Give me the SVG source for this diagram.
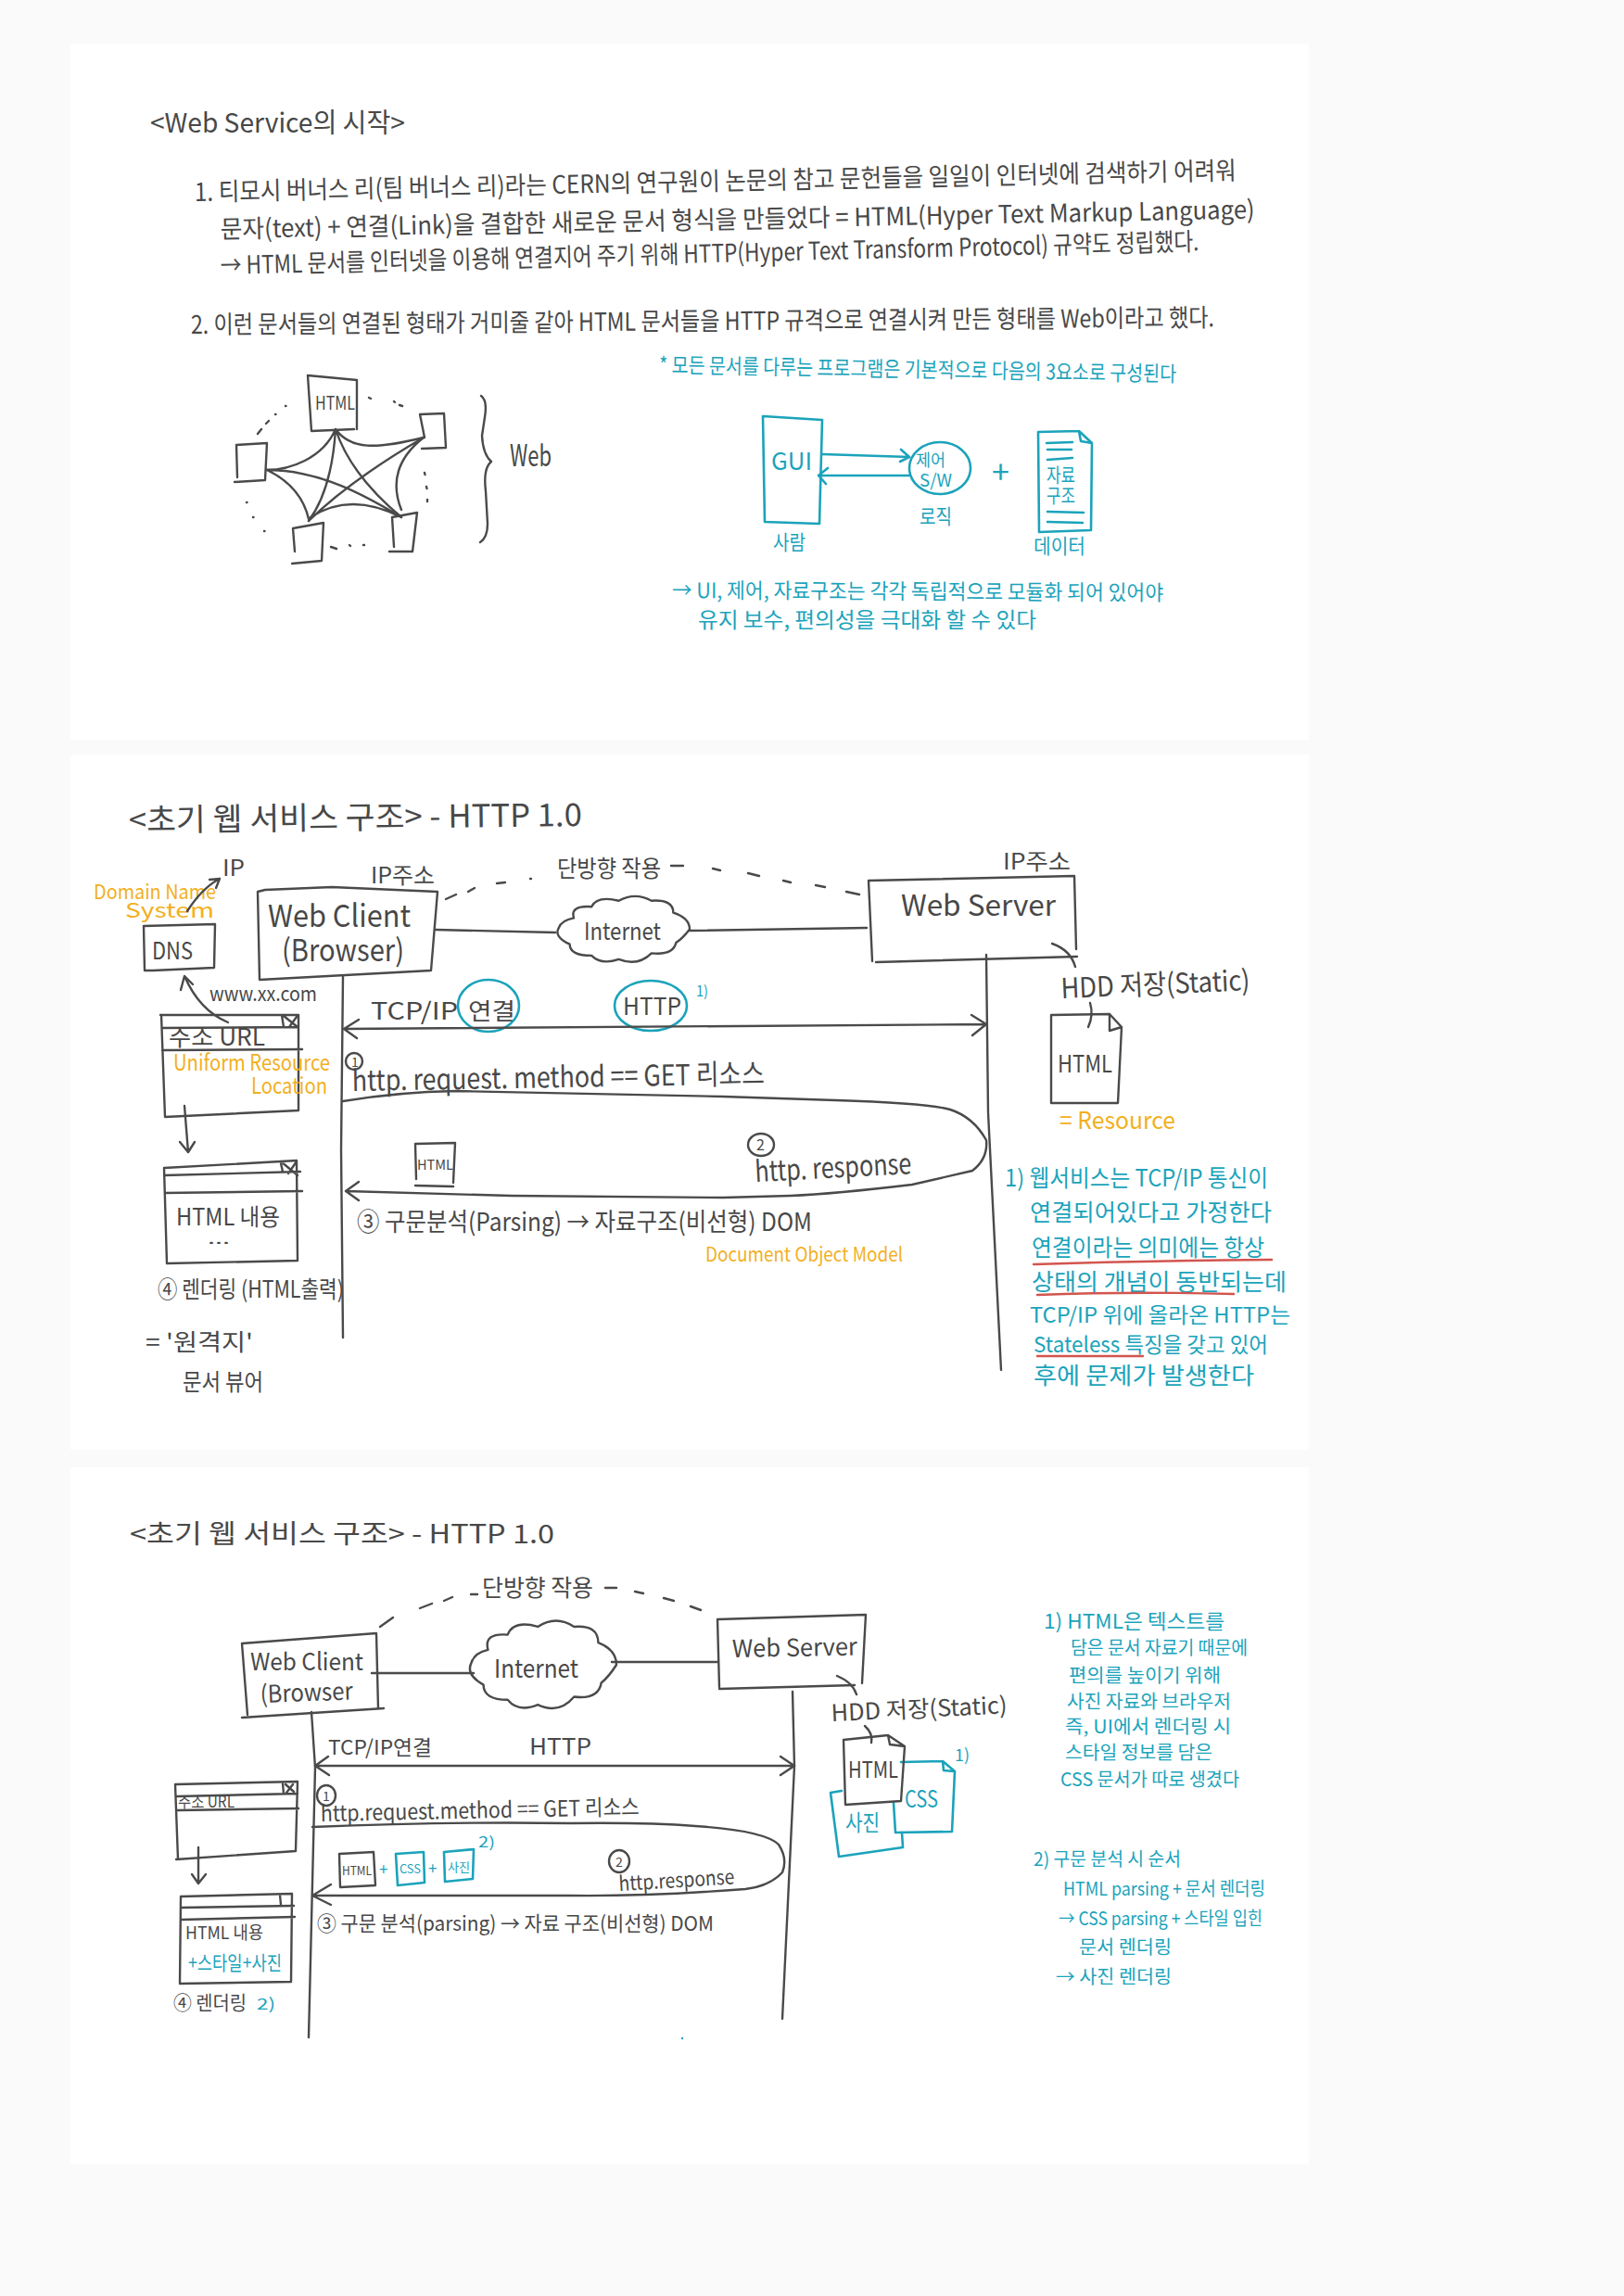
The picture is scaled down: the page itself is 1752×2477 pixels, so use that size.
<svg xmlns="http://www.w3.org/2000/svg" xmlns:xlink="http://www.w3.org/1999/xlink" width="1752" height="2477" viewBox="0 0 1752 2477">
<style>
text{font-family:"Noto Sans CJK KR","Noto Sans",sans-serif;font-weight:400;fill:#484848;white-space:pre}
.t{fill:#1ba3bb}.o{fill:#f2b01e}
.l{fill:none;stroke:#4a4a4a;stroke-width:2.4;stroke-linecap:round;stroke-linejoin:round}
.lt{fill:none;stroke:#1ba3bb;stroke-width:2.6;stroke-linecap:round;stroke-linejoin:round}
.lr{fill:none;stroke:#d2554f;stroke-width:2.4;stroke-linecap:round}
.n{fill:none;stroke:#4a4a4a;stroke-width:2.4;stroke-linejoin:round;vector-effect:non-scaling-stroke}
.dash{fill:none;stroke:#4a4a4a;stroke-width:2.4;stroke-linecap:round}
</style>
<defs>
<path id="cloud" class="n" d="M15 35Q12 18 28 20Q32 5 48 12Q60 0 72 12Q88 10 88 28Q100 35 100 50Q95 62 90 68Q88 85 72 82Q62 100 48 90Q35 98 28 85Q12 85 12 70Q0 60 4 48Q6 38 15 35Z"/>
</defs>
<rect width="1752" height="2477" fill="#fafafa"/>
<g id="panels" fill="#fff">
<rect x="76" y="47" width="1336" height="751"/>
<rect x="76" y="814" width="1336" height="750"/>
<rect x="76" y="1583" width="1336" height="752"/>
</g>

<g id="section1-text">
<text x="162" y="143" font-size="29" textLength="275" lengthAdjust="spacingAndGlyphs">&lt;Web Service의 시작&gt;</text>
<text x="210" y="217" font-size="27" textLength="1124" lengthAdjust="spacingAndGlyphs" transform="rotate(-1.2 210 217)">1. 티모시 버너스 리(팀 버너스 리)라는 CERN의 연구원이 논문의 참고 문헌들을 일일이 인터넷에 검색하기 어려워</text>
<text x="238" y="257" font-size="27" textLength="1116" lengthAdjust="spacingAndGlyphs" transform="rotate(-1.1 238 257)">문자(text) + 연결(Link)을 결합한 새로운 문서 형식을 만들었다 = HTML(Hyper Text Markup Language)</text>
<text x="238" y="296" font-size="27" textLength="1056" lengthAdjust="spacingAndGlyphs" transform="rotate(-1.4 238 296)">→ HTML 문서를 인터넷을 이용해 연결지어 주기 위해 HTTP(Hyper Text Transform Protocol) 규약도 정립했다.</text>
<text x="206" y="360" font-size="27" textLength="1104" lengthAdjust="spacingAndGlyphs" transform="rotate(-.4 206 360)">2. 이런 문서들의 연결된 형태가 거미줄 같아 HTML 문서들을 HTTP 규격으로 연결시켜 만든 형태를 Web이라고 했다.</text>
</g>

<g id="web-html"><path class="l" d="M332 405L385 410L385 463M332 405L336 465L382 463"/><text x="340" y="442" font-size="20" textLength="43" lengthAdjust="spacingAndGlyphs">HTML</text></g>
<g id="web-doc-right"><path class="l" d="M453 447L479 446L481 483L455 484M453 447L458 472"/></g>
<g id="web-doc-left"><path class="l" d="M255 480L288 478L286 518L253 520M255 480L256 515"/></g>
<g id="web-doc-bl"><path class="l" d="M316 570L349 564L347 605L315 608M316 570L318 595"/></g>
<g id="web-doc-br"><path class="l" d="M423 558L450 553L445 595L420 595M423 558L425 590"/></g>
<g id="web-brace"><path class="l" d="M519 427Q526 432 523 450L520 470Q521 490 530 498Q521 505 524 530L526 565Q526 580 518 585"/><text x="550" y="503" font-size="32" textLength="45" lengthAdjust="spacingAndGlyphs">Web</text></g>
<g id="web-links">
<path class="l" d="M362 463C348 495 312 507 288 507M362 463Q358 528 333 562M362 463Q378 512 433 558M362 463C378 485 405 485 457 472"/>
<path class="l" d="M288 507C345 507 395 535 433 558M457 472Q378 518 333 562M457 472Q415 505 433 550M288 507Q325 525 333 560M335 558Q378 530 433 558"/>
</g>
<g id="web-dots">
<path class="dash" d="M278 468L282 463M287 457L290 454M297 447L297.5 447M308 438L308.5 438M398 429L400 430M425 433L426 434M431 437L434 438M458 510L458.5 512M460 525L460.5 527M461 539L461 541M266 542L266.5 542M273 558L273.5 558M285 573L285.5 573M357 590L363 592M377 588L378 589M392 588L393 588"/>
</g>

<g id="note-star"><text class="t" x="711" y="402" font-size="23" textLength="558" lengthAdjust="spacingAndGlyphs" transform="rotate(1 711 402)">* 모든 문서를 다루는 프로그램은 기본적으로 다음의 3요소로 구성된다</text></g>
<g id="gui"><path class="lt" d="M823 449L887 453L884 565L825 563Z"/><text class="t" x="832" y="507" font-size="26" textLength="44" lengthAdjust="spacingAndGlyphs">GUI</text><text class="t" x="834" y="593" font-size="22" textLength="35" lengthAdjust="spacingAndGlyphs">사람</text></g>
<g id="control"><ellipse class="lt" cx="1014" cy="505" rx="33" ry="28"/><text class="t" x="988" y="503" font-size="18" textLength="32" lengthAdjust="spacingAndGlyphs">제어</text><text class="t" x="992" y="525" font-size="19" textLength="35" lengthAdjust="spacingAndGlyphs">S/W</text><text class="t" x="992" y="565" font-size="22" textLength="35" lengthAdjust="spacingAndGlyphs">로직</text></g>
<g id="plus"><text class="t" x="1070" y="522" font-size="34">+</text></g>
<g id="data"><path class="lt" d="M1120 466L1164 465L1178 478L1177 572L1121 574ZM1164 465L1166 476L1178 478"/><path class="lt" d="M1129 478L1157 477M1130 485L1156 485M1130 496L1157 494M1130 552L1169 553M1130 563L1168 564"/><text class="t" x="1129" y="520" font-size="21" textLength="31" lengthAdjust="spacingAndGlyphs">자료</text><text class="t" x="1129" y="542" font-size="21" textLength="31" lengthAdjust="spacingAndGlyphs">구조</text><text class="t" x="1115" y="597" font-size="22" textLength="56" lengthAdjust="spacingAndGlyphs">데이터</text></g>
<g id="conn-section1" class="connectors"><path class="lt" d="M887 490L981 493M972 485L981 493L971 498M981 513L883 513M893 505L883 513L891 522"/></g>
<g id="note-module">
<text class="t" x="725" y="645" font-size="23" textLength="530" lengthAdjust="spacingAndGlyphs" transform="rotate(.3 725 645)">→ UI, 제어, 자료구조는 각각 독립적으로 모듈화 되어 있어야</text>
<text class="t" x="753" y="677" font-size="23" textLength="365" lengthAdjust="spacingAndGlyphs">유지 보수, 편의성을 극대화 할 수 있다</text>
</g>

<g id="title2"><text x="139" y="897" font-size="34" textLength="489" lengthAdjust="spacingAndGlyphs" transform="rotate(-.7 139 897)">&lt;초기 웹 서비스 구조&gt; - HTTP 1.0</text></g>
<g id="dns"><path class="l" d="M155 999L232 997L231 1044L165 1047L156 1047Z"/><text x="164" y="1035" font-size="26" textLength="44" lengthAdjust="spacingAndGlyphs">DNS</text>
<text class="o" x="101" y="970" font-size="22" textLength="132" lengthAdjust="spacingAndGlyphs">Domain Name</text><text class="o" x="135" y="990" font-size="22" textLength="96" lengthAdjust="spacingAndGlyphs">System</text><text x="240" y="945" font-size="24" textLength="24" lengthAdjust="spacingAndGlyphs">IP</text></g>
<g id="client1"><path class="l" d="M278 962L286 960L358 957L472 962L465 1047L280 1057Z"/><text x="289" y="1000" font-size="33" textLength="154" lengthAdjust="spacingAndGlyphs">Web Client</text><text x="304" y="1037" font-size="33" textLength="132" lengthAdjust="spacingAndGlyphs">(Browser)</text><text x="400" y="953" font-size="24" textLength="69" lengthAdjust="spacingAndGlyphs">IP주소</text></g>
<g id="oneway1"><text x="601" y="946" font-size="25" textLength="112" lengthAdjust="spacingAndGlyphs">단방향 작용</text></g>
<g id="internet1"><use xlink:href="#cloud" href="#cloud" transform="translate(597 962) scale(1.47 .81)"/><text x="630" y="1014" font-size="26" textLength="83" lengthAdjust="spacingAndGlyphs">Internet</text></g>
<g id="server1"><path class="l" d="M941 1037L937 950L1159 945L1161 1024M945 1038L1162 1032"/><text x="972" y="988" font-size="31" textLength="167" lengthAdjust="spacingAndGlyphs">Web Server</text><text x="1082" y="938" font-size="24" textLength="73" lengthAdjust="spacingAndGlyphs">IP주소</text></g>
<g id="hdd1"><text x="1145" y="1077" font-size="30" textLength="204" lengthAdjust="spacingAndGlyphs" transform="rotate(-2.5 1145 1077)">HDD 저장(Static)</text><path class="l" d="M1135 1018Q1155 1025 1160 1043M1176 1082Q1180 1095 1174 1108"/></g>
<g id="html-doc1"><path class="l" d="M1134 1095L1197 1094L1210 1108L1206 1190L1134 1190ZM1197 1094L1197 1112L1210 1108"/><text x="1141" y="1157" font-size="26" textLength="59" lengthAdjust="spacingAndGlyphs">HTML</text><text class="o" x="1143" y="1218" font-size="26" textLength="125" lengthAdjust="spacingAndGlyphs">= Resource</text></g>
<g id="browser1a"><path class="l" d="M173 1095L322 1095L322 1198L178 1205L174 1095M175 1109L322 1108M175 1133L326 1132M304 1095L306 1108M306 1096L321 1108M312 1108L320 1097"/><text x="182" y="1128" font-size="25" textLength="104" lengthAdjust="spacingAndGlyphs">주소 URL</text><text class="o" x="187" y="1155" font-size="24" textLength="169" lengthAdjust="spacingAndGlyphs">Uniform Resource</text><text class="o" x="271" y="1180" font-size="24" textLength="82" lengthAdjust="spacingAndGlyphs">Location</text></g>
<g id="browser1b"><path class="l" d="M177 1260L320 1252L321 1360L180 1363ZM177 1268L324 1264M178 1287L326 1285M303 1255L305 1264M303 1253L321 1268M311 1266L320 1253"/><text x="190" y="1322" font-size="25" textLength="112" lengthAdjust="spacingAndGlyphs">HTML 내용</text><text x="224" y="1342" font-size="16" textLength="24" lengthAdjust="spacingAndGlyphs">...</text><text x="170" y="1400" font-size="25" textLength="201" lengthAdjust="spacingAndGlyphs">④ 렌더링 (HTML출력)</text><text x="157" y="1457" font-size="25" textLength="116" lengthAdjust="spacingAndGlyphs">= '원격지'</text><text x="197" y="1500" font-size="25" textLength="87" lengthAdjust="spacingAndGlyphs">문서 뷰어</text></g>
<g id="labels1">
<text x="226" y="1080" font-size="21" textLength="116" lengthAdjust="spacingAndGlyphs">www.xx.com</text>
<text x="400" y="1100" font-size="26" textLength="94" lengthAdjust="spacingAndGlyphs">TCP/IP</text>
<text x="505" y="1100" font-size="25" textLength="51" lengthAdjust="spacingAndGlyphs">연결</text>
<ellipse class="lt" cx="527" cy="1085" rx="33" ry="28"/>
<text x="672" y="1095" font-size="26" textLength="63" lengthAdjust="spacingAndGlyphs">HTTP</text>
<ellipse class="lt" cx="702" cy="1085" rx="39" ry="27"/>
<text class="t" x="751" y="1075" font-size="16" textLength="13" lengthAdjust="spacingAndGlyphs">1)</text>
<circle class="l" cx="382" cy="1145" r="9"/><text x="379" y="1151" font-size="14">1</text>
<text x="380" y="1177" font-size="31" textLength="445" lengthAdjust="spacingAndGlyphs" transform="rotate(-1 380 1177)">http. request. method == GET 리소스</text>
<ellipse class="l" cx="821" cy="1235" rx="14" ry="12"/><text x="816" y="1241" font-size="16">2</text>
<text x="815" y="1275" font-size="31" textLength="169" lengthAdjust="spacingAndGlyphs" transform="rotate(-3 815 1275)">http. response</text>
<text x="385" y="1328" font-size="27" textLength="491" lengthAdjust="spacingAndGlyphs">③ 구문분석(Parsing) → 자료구조(비선형) DOM</text>
<text class="o" x="761" y="1361" font-size="21" textLength="213" lengthAdjust="spacingAndGlyphs">Document Object Model</text>
</g>
<g id="html-msg1"><path class="l" d="M448 1234L491 1233L489 1276M448 1234L449 1272M448 1279L489 1280"/><text x="450" y="1262" font-size="15" textLength="39" lengthAdjust="spacingAndGlyphs">HTML</text></g>
<g id="note1">
<text class="t" x="1084" y="1280" font-size="25" textLength="284" lengthAdjust="spacingAndGlyphs">1) 웹서비스는 TCP/IP 통신이</text>
<text class="t" x="1111" y="1317" font-size="25" textLength="261" lengthAdjust="spacingAndGlyphs">연결되어있다고 가정한다</text>
<text class="t" x="1113" y="1355" font-size="25" textLength="251" lengthAdjust="spacingAndGlyphs">연결이라는 의미에는 항상</text>
<text class="t" x="1113" y="1392" font-size="25" textLength="275" lengthAdjust="spacingAndGlyphs">상태의 개념이 동반되는데</text>
<text class="t" x="1111" y="1427" font-size="23" textLength="281" lengthAdjust="spacingAndGlyphs">TCP/IP 위에 올라온 HTTP는</text>
<text class="t" x="1115" y="1459" font-size="23" textLength="253" lengthAdjust="spacingAndGlyphs">Stateless 특징을 갖고 있어</text>
<text class="t" x="1115" y="1493" font-size="25" textLength="238" lengthAdjust="spacingAndGlyphs">후에 문제가 발생한다</text>
<path class="lr" d="M1115 1364Q1240 1360 1372 1359M1119 1397Q1220 1393 1331 1396M1119 1463L1233 1463"/>
</g>
<g id="connectors2">
<path class="l" d="M202 983Q218 958 237 948M226 949L237 948L233 958"/>
<path class="l" d="M246 1103Q215 1090 199 1053M195 1068L199 1053L208 1062"/>
<path class="l" d="M199 1193L203 1243M194 1232L203 1243L210 1232"/>
<path class="l" d="M470 1003L599 1006M744 1004L935 1001"/>
<path class="l" d="M370 1053L368 1240L370 1443M1064 1030L1066 1200L1080 1478"/>
<path class="l" d="M371 1110L1064 1105M387 1100L371 1110L385 1120M1048 1095L1064 1105L1049 1117"/>
<path class="l" d="M370 1188Q430 1178 492 1177L780 1183L902 1187Q1000 1190 1025 1197Q1050 1205 1064 1230Q1066 1250 1049 1263L984 1278Q900 1288 853 1290L780 1292L552 1290L373 1285M387 1275L373 1285L387 1295"/>
<path class="dash" d="M481 970L492 965M505 962L512 958M536 953L545 952M572 948L573 948M724 934L737 934M769 937L777 939M807 942L819 945M845 950L853 952M880 955L890 957M913 962L927 965"/>
</g>

<g id="title3"><text x="140" y="1665" font-size="28" textLength="458" lengthAdjust="spacingAndGlyphs">&lt;초기 웹 서비스 구조&gt; - HTTP 1.0</text></g>
<g id="oneway2"><text x="520" y="1722" font-size="25" textLength="120" lengthAdjust="spacingAndGlyphs">단방향 작용</text></g>
<g id="client2"><path class="l" d="M261 1773L406 1762L408 1843M261 1853L414 1843M261 1773L267 1850"/><text x="270" y="1802" font-size="26" textLength="122" lengthAdjust="spacingAndGlyphs">Web Client</text><text x="281" y="1837" font-size="26" textLength="100" lengthAdjust="spacingAndGlyphs" transform="rotate(-2 281 1837)">(Browser</text></g>
<g id="internet2"><use xlink:href="#cloud" href="#cloud" transform="translate(502 1742) scale(1.63 1.08)"/><text x="533" y="1810" font-size="27" textLength="91" lengthAdjust="spacingAndGlyphs">Internet</text></g>
<g id="server2"><path class="l" d="M776 1820L774 1747L934 1742L930 1816M776 1822L922 1818"/><text x="790" y="1788" font-size="26" textLength="135" lengthAdjust="spacingAndGlyphs" transform="rotate(-1 790 1788)">Web Server</text></g>
<g id="hdd2"><text x="897" y="1857" font-size="25" textLength="190" lengthAdjust="spacingAndGlyphs" transform="rotate(-2.6 897 1857)">HDD 저장(Static)</text><path class="l" d="M903 1808Q920 1815 924 1828M933 1862Q942 1870 940 1880"/></g>
<g id="photo-doc"><path class="lt" d="M908 1932L896 1934L905 2003L974 1993L973 1977"/><text class="t" x="912" y="1975" font-size="24" textLength="37" lengthAdjust="spacingAndGlyphs">사진</text></g>
<g id="css-doc"><path class="lt" d="M972 1901L1017 1900L1030 1911L1027 1976L966 1977L964 1945M1017 1900L1018 1910L1030 1911"/><text class="t" x="976" y="1950" font-size="25" textLength="36" lengthAdjust="spacingAndGlyphs">CSS</text><text class="t" x="1030" y="1900" font-size="18" textLength="16" lengthAdjust="spacingAndGlyphs">1)</text></g>
<g id="html-doc2"><path class="l" d="M910 1877L958 1872L976 1884L972 1943L912 1947ZM958 1872L960 1882L976 1884"/><text x="915" y="1918" font-size="24" textLength="54" lengthAdjust="spacingAndGlyphs">HTML</text></g>
<g id="browser2a"><path class="l" d="M189 1925L321 1922L319 1997L190 2006M189 1925L192 2006M190 1938L321 1935M192 1953L322 1951M305 1924L306 1935M308 1925L317 1933M316 1925L309 1934"/><text x="192" y="1950" font-size="17" textLength="61" lengthAdjust="spacingAndGlyphs">주소 URL</text></g>
<g id="browser2b"><path class="l" d="M195 2046L315 2043L314 2138L194 2140ZM196 2058L317 2056M196 2071L318 2068M302 2044L303 2055"/><text x="200" y="2092" font-size="19" textLength="84" lengthAdjust="spacingAndGlyphs">HTML 내용</text><text class="t" x="203" y="2125" font-size="21" textLength="101" lengthAdjust="spacingAndGlyphs">+스타일+사진</text><text x="187" y="2168" font-size="21" textLength="79" lengthAdjust="spacingAndGlyphs">④ 렌더링</text><text class="t" x="277" y="2168" font-size="17" textLength="20" lengthAdjust="spacingAndGlyphs">2)</text></g>
<g id="labels2">
<text x="354" y="1893" font-size="22" textLength="112" lengthAdjust="spacingAndGlyphs">TCP/IP연결</text>
<text x="571" y="1893" font-size="24" textLength="67" lengthAdjust="spacingAndGlyphs">HTTP</text>
<ellipse class="l" cx="352" cy="1937" rx="10" ry="11"/><text x="348" y="1943" font-size="14">1</text>
<text x="346" y="1965" font-size="24" textLength="344" lengthAdjust="spacingAndGlyphs" transform="rotate(-1.2 346 1965)">http.request.method == GET 리소스</text>
<ellipse class="l" cx="668" cy="2008" rx="11" ry="12"/><text x="664" y="2014" font-size="14">2</text>
<text x="668" y="2040" font-size="22" textLength="125" lengthAdjust="spacingAndGlyphs" transform="rotate(-3.5 668 2040)">http.response</text>
<text x="342" y="2083" font-size="22" textLength="428" lengthAdjust="spacingAndGlyphs">③ 구문 분석(parsing) → 자료 구조(비선형) DOM</text>
</g>
<g id="msg-html2"><path class="l" d="M366 2000L403 1998L405 2034L367 2036Z"/><text x="369" y="2023" font-size="13" textLength="32" lengthAdjust="spacingAndGlyphs">HTML</text></g>
<g id="msg-css2"><path class="lt" d="M427 2000L457 1998L458 2031L429 2034Z"/><text class="t" x="431" y="2021" font-size="13" textLength="23" lengthAdjust="spacingAndGlyphs">CSS</text><text class="t" x="409" y="2023" font-size="17">+</text></g>
<g id="msg-photo2"><path class="lt" d="M479 1998L511 1995L510 2027L480 2030Z"/><text class="t" x="483" y="2019" font-size="13" textLength="24" lengthAdjust="spacingAndGlyphs">사진</text><text class="t" x="462" y="2022" font-size="17">+</text><text class="t" x="516" y="1993" font-size="16" textLength="18" lengthAdjust="spacingAndGlyphs">2)</text></g>
<g id="note2">
<text class="t" x="1126" y="1757" font-size="22" textLength="195" lengthAdjust="spacingAndGlyphs">1) HTML은 텍스트를</text>
<text class="t" x="1155" y="1785" font-size="20" textLength="191" lengthAdjust="spacingAndGlyphs">담은 문서 자료기 때문에</text>
<text class="t" x="1153" y="1815" font-size="20" textLength="164" lengthAdjust="spacingAndGlyphs">편의를 높이기 위해</text>
<text class="t" x="1151" y="1843" font-size="20" textLength="177" lengthAdjust="spacingAndGlyphs">사진 자료와 브라우저</text>
<text class="t" x="1149" y="1870" font-size="20" textLength="179" lengthAdjust="spacingAndGlyphs">즉, UI에서 렌더링 시</text>
<text class="t" x="1149" y="1898" font-size="20" textLength="159" lengthAdjust="spacingAndGlyphs">스타일 정보를 담은</text>
<text class="t" x="1144" y="1927" font-size="20" textLength="193" lengthAdjust="spacingAndGlyphs">CSS 문서가 따로 생겼다</text>
<text class="t" x="1115" y="2013" font-size="20" textLength="159" lengthAdjust="spacingAndGlyphs">2) 구문 분석 시 순서</text>
<text class="t" x="1147" y="2045" font-size="20" textLength="218" lengthAdjust="spacingAndGlyphs">HTML parsing + 문서 렌더링</text>
<text class="t" x="1142" y="2077" font-size="20" textLength="220" lengthAdjust="spacingAndGlyphs">→ CSS parsing + 스타일 입힌</text>
<text class="t" x="1164" y="2108" font-size="20" textLength="100" lengthAdjust="spacingAndGlyphs">문서 렌더링</text>
<text class="t" x="1139" y="2140" font-size="20" textLength="125" lengthAdjust="spacingAndGlyphs">→ 사진 렌더링</text>
</g>
<g id="connectors3">
<path class="l" d="M401 1805L511 1805M660 1793L774 1793"/>
<path class="l" d="M336 1847L340 1907L333 2198M855 1825L857 1905L844 2178"/>
<path class="l" d="M340 1905L857 1905M354 1895L340 1905L355 1915M842 1895L857 1905L842 1915"/>
<path class="l" d="M214 1993L214 2032M207 2022L214 2032L222 2022"/>
<path class="l" d="M337 1971Q480 1965 616 1967Q700 1966 750 1970Q825 1975 840 1990Q850 2005 844 2020Q830 2035 804 2038Q700 2046 616 2045L337 2045M357 2033L337 2045L357 2055"/>
<path class="dash" d="M410 1755L424 1745M453 1735L466 1730M479 1727L488 1723M508 1720L515 1720M653 1713L665 1713M685 1717L694 1719M716 1724L727 1727M745 1733L756 1737"/>
<circle cx="736" cy="2199" r="1.2" fill="#1ba3bb"/>
</g>
</svg>
